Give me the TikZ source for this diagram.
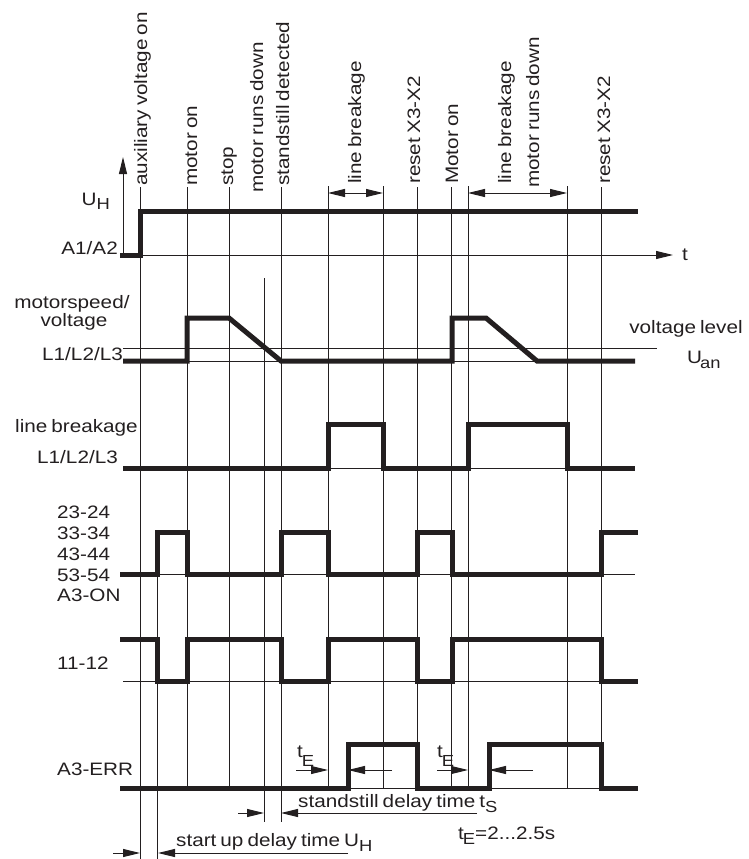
\documentclass[tikz,border=0pt]{standalone}
\usepackage{fontspec}
\setmainfont{Liberation Sans}[FakeStretch=1.15,WordSpace=0.7]
\usetikzlibrary{arrows.meta}
\definecolor{ink}{RGB}{35,31,32}
\newcommand{\lsub}[2][-5pt]{\raisebox{#1}{\fontsize{16}{16}\selectfont #2}}
\tikzset{
  sig/.style={ink, line width=5pt, line join=miter},
  gline/.style={ink, line width=1pt},
  dimr/.style={gline, -{Triangle[length=17pt,width=8pt]}},
  dimb/.style={gline, {Triangle[length=17pt,width=8pt]}-{Triangle[length=17pt,width=8pt]}},
  lab/.style={ink, font=\fontsize{18}{20.8}\selectfont, inner sep=0pt},
  vlab/.style={lab, rotate=90, anchor=west, text height=13pt, text depth=4pt},
}
\begin{document}
\begin{tikzpicture}[x=1pt, y=-1pt]
  \useasboundingbox (0,0) rectangle (748,859);
  % event lines
  \draw[gline] (140,187) -- (140,859);
  \draw[gline] (157,574) -- (157,859);
  \draw[gline] (187,187) -- (187,788);
  \draw[gline] (229,187) -- (229,788);
  \draw[gline] (264,278) -- (264,822);
  \draw[gline] (281,187) -- (281,822);
  \draw[gline] (328,186) -- (328,788);
  \draw[gline] (383,186) -- (383,788);
  \draw[gline] (417,187) -- (417,788);
  \draw[gline] (451,187) -- (451,788);
  \draw[gline] (468,186) -- (468,788);
  \draw[gline] (567,186) -- (567,788);
  \draw[gline] (601,187) -- (601,788);
  % axes and reference levels
  \draw[dimr] (123,255) -- (123,157);
  \draw[dimr] (123,255) -- (673,255);
  \draw[gline] (123,348) -- (657,348);
  \draw[gline] (123,361) -- (635,361);
  \draw[gline] (123,468) -- (635,468);
  \draw[gline] (123,574) -- (635,574);
  \draw[gline] (123,681) -- (638,681);
  \draw[gline] (123,788) -- (638,788);
  % signals
  \draw[sig] (120,255) -- (140,255) -- (140,211) -- (638,211);
  \draw[sig] (123,361) -- (187,361) -- (187,318) -- (229,318) -- (281,361) -- (452,361)
    -- (452,318) -- (486,318) -- (537,361) -- (635,361);
  \draw[sig] (123,468) -- (328,468) -- (328,424) -- (383,424) -- (383,468) -- (468,468)
    -- (468,424) -- (567,424) -- (567,468) -- (635,468);
  \draw[sig] (120,574) -- (157,574) -- (157,532) -- (187,532) -- (187,574) -- (281,574)
    -- (281,532) -- (328,532) -- (328,574) -- (417,574) -- (417,532) -- (452,532)
    -- (452,574) -- (601,574) -- (601,532) -- (638,532);
  \draw[sig] (120,639) -- (157,639) -- (157,681) -- (187,681) -- (187,639) -- (281,639)
    -- (281,681) -- (328,681) -- (328,639) -- (417,639) -- (417,681) -- (452,681)
    -- (452,639) -- (601,639) -- (601,681) -- (638,681);
  \draw[sig] (120,788) -- (348,788) -- (348,744) -- (417,744) -- (417,788) -- (489,788)
    -- (489,744) -- (601,744) -- (601,788) -- (638,788);
  % time spans
  \draw[dimb] (328,193) -- (383,193);
  \draw[dimb] (468,193) -- (567,193);
  \draw[dimr] (296,770) -- (328,770);
  \draw[dimr] (392,770) -- (348,770);
  \draw[dimr] (437,770) -- (468,770);
  \draw[dimr] (533,770) -- (489,770);
  \draw[dimr] (238,813) -- (264,813);
  \draw[dimr] (477,813) -- (281,813);
  \draw[dimr] (113,853) -- (140,853);
  \draw[dimr] (348,853) -- (158,853);
  % event labels
  \node[vlab] (aux) at (142.5,186) {auxiliary voltage on};
  \node[vlab] (mon) at (192.5,186) {motor on};
  \node[vlab] (stp) at (228.5,186) {stop};
  \node[vlab] (mrd) at (258.5,193) {motor runs down};
  \node[vlab] (sst) at (284.5,186) {standstill detected};
  \node[vlab] (lb) at (356.5,184) {line breakage};
  \node[vlab] (rst) at (415.5,184) {reset X3-X2};
  \node[vlab] (Mon) at (453.5,184) {Motor on};
  \node[vlab] (lbb) at (506.5,184) {line breakage};
  \node[vlab] (mrdb) at (534.5,188) {motor runs down};
  \node[vlab] (rstb) at (605.5,184) {reset X3-X2};
  % signal labels
  \node[lab, anchor=base east] (uh) at (110,205) {U\lsub[-4pt]{H}};
  \node[lab, anchor=base east] (a12) at (118,254) {A1/A2};
  \node[lab, anchor=base west] (t) at (682,260) {t};
  \node[lab, anchor=base] (ms) at (72,308) {motorspeed/};
  \node[lab, anchor=base] (vo) at (74,326) {voltage};
  \node[lab, anchor=base east] (l1) at (123,360) {L1/L2/L3};
  \node[lab, anchor=base] (vl) at (686,333) {voltage level};
  \node[lab, anchor=base west] (uan) at (687,363) {U\kern-2pt\lsub{an}};
  \node[lab, anchor=base east] (lbr) at (138,432) {line breakage};
  \node[lab, anchor=base east] (l2) at (118,463) {L1/L2/L3};
  \node[lab, anchor=north west, align=left] (on) at (57,506) {23-24\\33-34\\43-44\\53-54\\A3-ON};
  \node[lab, anchor=base west] (nc) at (57,669) {11-12};
  \node[lab, anchor=base west] (err) at (57,775) {A3-ERR};
  \node[lab, anchor=base west] (te) at (297,757) {t\kern-1pt\lsub[-9pt]{E}};
  \node[lab, anchor=base west] (teb) at (437,757) {t\kern-1pt\lsub[-9pt]{E}};
  \node[lab, anchor=base west] (ts) at (298,807) {standstill delay time t\lsub{S}};
  \node[lab, anchor=base west] (tev) at (458,839) {t\kern-1pt\lsub{E}=2...2.5s};
  \node[lab, anchor=base west] (tu) at (176,846) {start up delay time U\lsub{H}};
\end{tikzpicture}
\end{document}
